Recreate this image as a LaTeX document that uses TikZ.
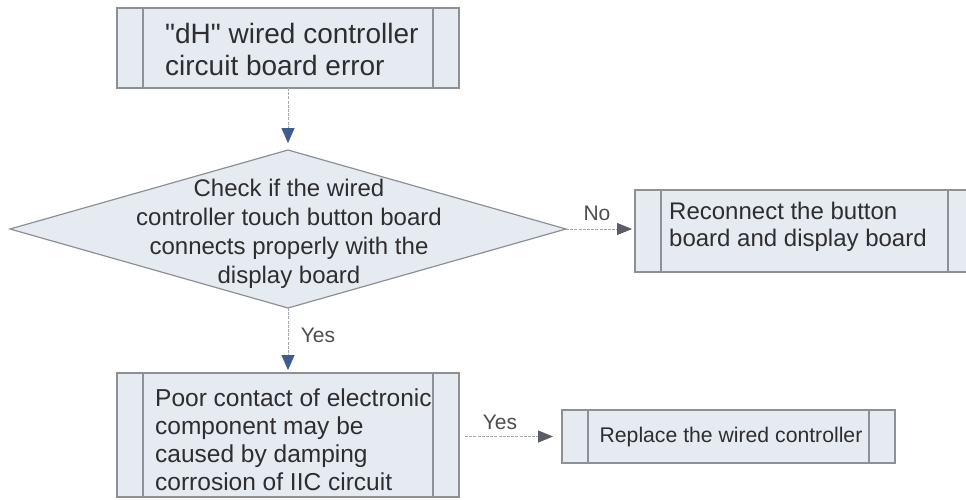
\documentclass[tikz,border=0pt]{standalone}
\usepackage{fontspec}
\setmainfont{Liberation Sans}
\usetikzlibrary{shapes.geometric,arrows.meta}
\definecolor{boxfill}{HTML}{E6EAF1}
\definecolor{boxline}{HTML}{8E9096}
\definecolor{txt}{HTML}{2E2E2E}
\definecolor{tipblue}{HTML}{3E5C8E}
\definecolor{tipgray}{HTML}{5A5C66}
\definecolor{conn}{HTML}{A6A8AE}
\tikzset{
  procbox/.style={draw=boxline, line width=1.2pt, fill=boxfill, rectangle, inner sep=0pt, outer sep=0pt,
    path picture={
      \draw[boxline, line width=1.6pt] ([xshift=26pt]path picture bounding box.north west) -- ([xshift=26pt]path picture bounding box.south west);
      \draw[boxline, line width=1.6pt] ([xshift=-26pt]path picture bounding box.north east) -- ([xshift=-26pt]path picture bounding box.south east);
    }},
  decbox/.style={draw=boxline, line width=1.2pt, fill=boxfill, diamond, inner sep=0pt, outer sep=0pt},
  txtnode/.style={font=\fontsize{24}{28}\selectfont, text=txt, inner sep=0pt},
  lbl/.style={font=\fontsize{21}{24}\selectfont, text=txt!85, inner sep=0pt},
  conn/.style={draw=conn, line width=0.9pt, dash pattern=on 3pt off 1.2pt},
  tipb/.style={-{Triangle[length=15pt,width=13pt,fill=tipblue,color=tipblue]}},
  tipg/.style={-{Triangle[length=15pt,width=12pt,fill=tipgray,color=tipgray]}},
}
\begin{document}
\begin{tikzpicture}[x=1pt,y=-1pt]
\useasboundingbox (0,0) rectangle (966,499);
\clip (0,0) rectangle (966,499);
% boxes
\node[procbox, minimum width=342pt, minimum height=80pt] (top) at (288,48) {};
\node[decbox, minimum width=556pt, minimum height=158pt] (dia) at (288,229) {};
\node[procbox, minimum width=339pt, minimum height=82pt] (recon) at (804.5,231) {};
\node[procbox, minimum width=342pt, minimum height=124pt] (poor) at (288,435) {};
\node[procbox, minimum width=333pt, minimum height=53pt] (repl) at (728.5,436.5) {};
% texts
\node[txtnode, anchor=west, align=left, font=\fontsize{28}{32}\selectfont] (toptxt) at (165,49) {\textquotedbl dH\textquotedbl{} wired controller\\circuit board error};
\node[txtnode, align=center, font=\fontsize{24}{29}\selectfont] (diatxt) at (289,234) {Check if the wired\\controller touch button board\\connects properly with the\\display board};
\node[txtnode, anchor=west, align=left, font=\fontsize{24}{27}\selectfont] (recontxt) at (669,227) {Reconnect the button\\board and display board};
\node[txtnode, anchor=west, align=left, font=\fontsize{24.5}{28}\selectfont] (poortxt) at (155,440) {Poor contact of electronic\\component may be\\caused by damping\\corrosion of IIC circuit};
\node[txtnode, font=\fontsize{21.2}{24}\selectfont] (repltxt) at (731,437) {Replace the wired controller};
% labels
\node[lbl] (no) at (597,213) {No};
\node[lbl] (yes1) at (318,335) {Yes};
\node[lbl] (yes2) at (500,422) {Yes};
% connectors
\draw[conn, tipb, shorten >=7pt] (top.south) -- (dia.north);
\draw[conn, tipg, shorten >=3pt] (dia.east) -- (dia.east -| recon.west);
\draw[conn, tipb, shorten >=3pt] (dia.south) -- (poor.north);
\coordinate (bstart) at ([xshift=6pt]poor.east |- repl.west);
\draw[conn, tipg, shorten >=9pt] (bstart) -- (repl.west);
\end{tikzpicture}
\end{document}
